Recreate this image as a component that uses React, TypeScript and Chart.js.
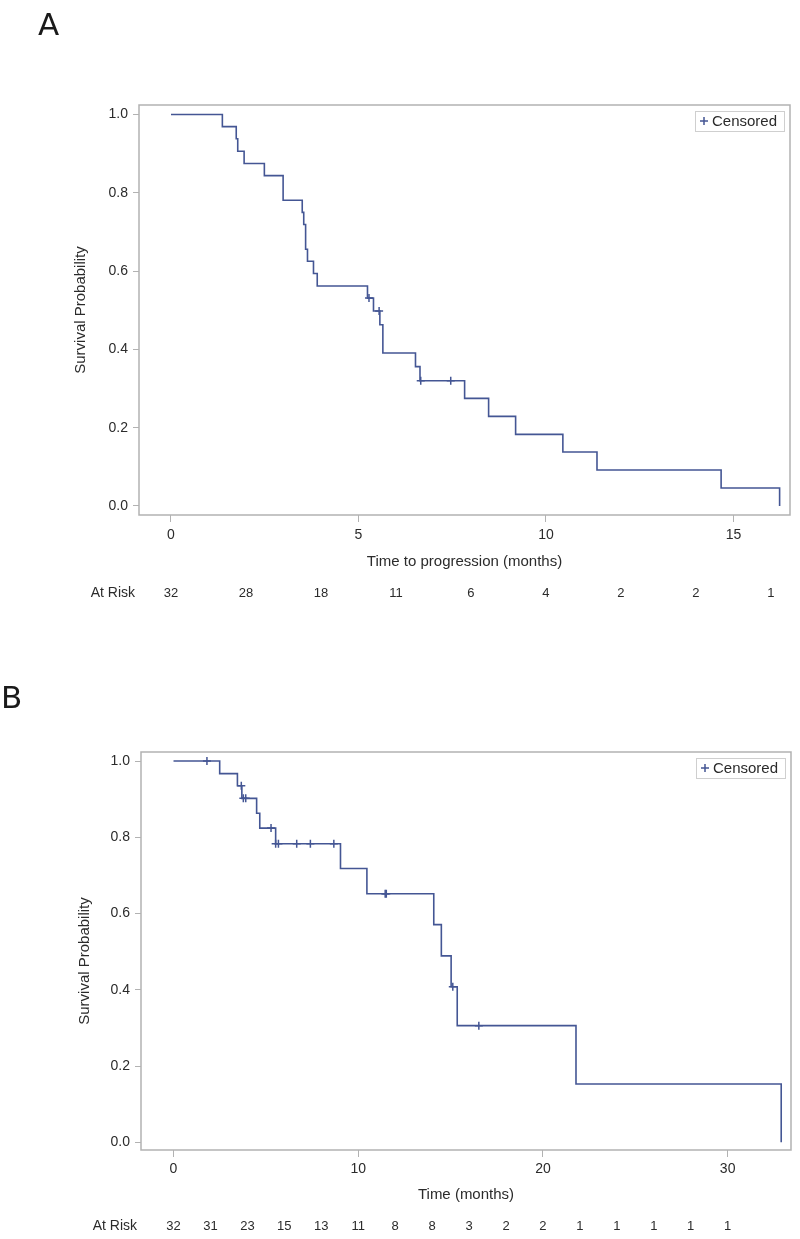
import React, { useEffect, useRef } from 'react';
import { Chart, registerables } from 'chart.js';

Chart.register(...registerables);

// ---------- Panel A data ----------
const stepTimesA = [0, 1.37, 1.74, 1.78, 1.95, 2.49, 2.99, 3.5, 3.54, 3.59, 3.64, 3.8, 3.9, 5.24, 5.4, 5.57, 5.65, 6.52, 6.64, 7.83, 8.47, 9.19, 10.45, 11.36, 14.67, 16.23];
const stepSurvA = [1.0, 0.969, 0.938, 0.906, 0.875, 0.844, 0.781, 0.75, 0.719, 0.656, 0.625, 0.594, 0.562, 0.531, 0.498, 0.463, 0.391, 0.356, 0.32, 0.275, 0.229, 0.183, 0.138, 0.092, 0.046, 0.0];
const censorTimesA = [5.28, 5.55, 6.66, 7.46];
const censorSurvA = [0.531, 0.498, 0.32, 0.32];
const xTicksA = [0, 5, 10, 15];
const atRiskTimesA = [0, 2, 4, 6, 8, 10, 12, 14, 16];
const atRiskA = [32, 28, 18, 11, 6, 4, 2, 2, 1];
const xTitleA = 'Time to progression (months)';

// ---------- Panel B data ----------
const stepTimesB = [0, 2.5, 3.46, 3.7, 4.5, 4.67, 5.53, 9.04, 10.47, 14.09, 14.5, 15.03, 15.36, 21.79, 32.9];
const stepSurvB = [1.0, 0.967, 0.935, 0.902, 0.863, 0.824, 0.783, 0.718, 0.652, 0.571, 0.489, 0.408, 0.306, 0.153, 0.0];
const censorTimesB = [1.81, 3.67, 3.78, 3.91, 5.28, 5.53, 5.68, 6.67, 7.41, 8.68, 11.46, 11.52, 15.12, 16.53];
const censorSurvB = [1.0, 0.935, 0.902, 0.902, 0.824, 0.783, 0.783, 0.783, 0.783, 0.783, 0.652, 0.652, 0.408, 0.306];
const xTicksB = [0, 10, 20, 30];
const atRiskTimesB = [0, 2, 4, 6, 8, 10, 12, 14, 16, 18, 20, 22, 24, 26, 28, 30];
const atRiskB = [32, 31, 23, 15, 13, 11, 8, 8, 3, 2, 2, 1, 1, 1, 1, 1];
const xTitleB = 'Time (months)';

// ---------- shared ----------
const yTicks = [0, 0.2, 0.4, 0.6, 0.8, 1.0];
const yTitle = 'Survival Probability';
const legendLabel = 'Censored';
const atRiskLabel = 'At Risk';

const LINE = '#445694';
const FRAME = '#b2b2b2';
const TEXT = '#2b2b2b';
const FONT = "'Liberation Sans', Arial, sans-serif";

const kmPlugin = {
  id: 'kmDecor',
  afterDraw(chart: any, _args: any, o: any) {
    const { ctx, chartArea: ca, scales } = chart;
    const xs = scales.x;
    ctx.save();
    // frame
    ctx.strokeStyle = FRAME;
    ctx.lineWidth = 1.5;
    ctx.strokeRect(ca.left, ca.top, ca.right - ca.left, ca.bottom - ca.top);

    // legend box
    const bw = 89, bh = 20;
    const bx = ca.right - 6 - bw, by = ca.top + 6;
    ctx.fillStyle = '#ffffff';
    ctx.fillRect(bx, by, bw, bh);
    ctx.strokeStyle = '#cfcfcf';
    ctx.lineWidth = 1;
    ctx.strokeRect(bx + 0.5, by + 0.5, bw, bh);
    const px = bx + 9, py = by + bh / 2;
    ctx.strokeStyle = LINE;
    ctx.lineWidth = 1.5;
    ctx.beginPath();
    ctx.moveTo(px - 4, py); ctx.lineTo(px + 4, py);
    ctx.moveTo(px, py - 4); ctx.lineTo(px, py + 4);
    ctx.stroke();
    ctx.fillStyle = TEXT;
    ctx.font = `15px ${FONT}`;
    ctx.textAlign = 'left';
    ctx.textBaseline = 'middle';
    ctx.fillText(legendLabel, bx + 17, py + 0.5);

    // y title
    ctx.save();
    ctx.translate(o.yTitleX, o.yTitleY);
    ctx.rotate(-Math.PI / 2);
    ctx.textAlign = 'center';
    ctx.textBaseline = 'middle';
    ctx.font = `15px ${FONT}`;
    ctx.fillText(yTitle, 0, 0);
    ctx.restore();

    // at risk row
    const ry = ca.bottom + o.atRiskOffset;
    ctx.font = `14px ${FONT}`;
    ctx.textAlign = 'right';
    ctx.textBaseline = 'middle';
    ctx.fillText(atRiskLabel, o.atRiskLabelX, ry);
    ctx.font = `13px ${FONT}`;
    ctx.textAlign = 'center';
    o.times.forEach((t: number, i: number) => {
      ctx.fillText(String(o.counts[i]), xs.getPixelForValue(t), ry);
    });
    ctx.restore();
  },
};

function makeConfig(p: any): any {
  return {
    type: 'scatter',
    data: {
      datasets: [
        {
          data: p.times.map((t: number, i: number) => ({ x: t, y: p.surv[i] })),
          showLine: true,
          stepped: 'before',
          borderColor: LINE,
          borderWidth: 1.6,
          pointRadius: 0,
          fill: false,
        },
        {
          data: p.cTimes.map((t: number, i: number) => ({ x: t, y: p.cSurv[i] })),
          showLine: false,
          pointStyle: 'cross',
          pointRadius: 4,
          borderColor: LINE,
          backgroundColor: LINE,
          pointBorderWidth: 1.5,
          borderWidth: 1.5,
        },
      ],
    },
    options: {
      responsive: false,
      maintainAspectRatio: false,
      animation: false,
      events: [],
      layout: { padding: p.padding },
      plugins: {
        legend: { display: false },
        tooltip: { enabled: false },
        kmDecor: {
          yTitleX: p.yTitleX,
          yTitleY: p.yTitleY,
          atRiskOffset: p.atRiskOffset,
          atRiskLabelX: p.atRiskLabelX,
          times: p.riskTimes,
          counts: p.riskCounts,
        },
      },
      scales: {
        x: {
          type: 'linear',
          min: p.xMin,
          max: p.xMax,
          afterBuildTicks: (s: any) => { s.ticks = p.xTicks.map((v: number) => ({ value: v })); },
          afterFit: (s: any) => { s.height = p.xAxisHeight; },
          grid: { drawOnChartArea: false, drawTicks: true, tickLength: 7, color: FRAME, lineWidth: 1 },
          border: { display: false },
          ticks: {
            color: TEXT,
            font: { size: 14, family: FONT },
            padding: p.xTickPad,
            maxRotation: 0,
            callback: (v: any) => String(v),
          },
          title: {
            display: true,
            text: p.xTitle,
            color: TEXT,
            font: { size: 15, family: FONT },
            padding: { top: 0, bottom: 4 },
          },
        },
        y: {
          type: 'linear',
          min: p.yMin,
          max: p.yMax,
          afterBuildTicks: (s: any) => { s.ticks = yTicks.map((v) => ({ value: v })); },
          afterFit: (s: any) => { s.width = p.yAxisWidth; },
          grid: { drawOnChartArea: false, drawTicks: true, tickLength: 6, color: FRAME, lineWidth: 1 },
          border: { display: false },
          ticks: {
            color: TEXT,
            font: { size: 14, family: FONT },
            padding: 5,
            callback: (v: any) => Number(v).toFixed(1),
          },
          title: { display: false },
        },
      },
    },
    plugins: [kmPlugin],
  };
}

const panelA = {
  times: stepTimesA, surv: stepSurvA, cTimes: censorTimesA, cSurv: censorSurvA,
  xTicks: xTicksA, riskTimes: atRiskTimesA, riskCounts: atRiskA, xTitle: xTitleA,
  xMin: -0.853, xMax: 16.507, yMin: -0.023, yMax: 1.0243,
  padding: { left: 60, top: 105, right: 10, bottom: 45 },
  yAxisWidth: 79, xAxisHeight: 60, xTickPad: 5,
  yTitleX: 81, yTitleY: 310, atRiskOffset: 78, atRiskLabelX: 135,
};

const panelB = {
  times: stepTimesB, surv: stepSurvB, cTimes: censorTimesB, cSurv: censorSurvB,
  xTicks: xTicksB, riskTimes: atRiskTimesB, riskCounts: atRiskB, xTitle: xTitleB,
  xMin: -1.76, xMax: 33.43, yMin: -0.02, yMax: 1.0236,
  padding: { left: 62, top: 112, right: 9, bottom: 31 },
  yAxisWidth: 79, xAxisHeight: 58, xTickPad: 4,
  yTitleX: 85, yTitleY: 321, atRiskOffset: 76, atRiskLabelX: 137,
};

function KMChart({ cfg, top, height }: { cfg: any; top: number; height: number }) {
  const ref = useRef<HTMLCanvasElement | null>(null);
  useEffect(() => {
    if (!ref.current) return;
    const chart = new Chart(ref.current, makeConfig(cfg));
    return () => chart.destroy();
  }, [cfg]);
  return (
    <canvas
      ref={ref}
      width={800}
      height={height}
      style={{ position: 'absolute', left: 0, top, width: 800, height, display: 'block' }}
    />
  );
}

const letterStyle: React.CSSProperties = {
  position: 'absolute',
  fontFamily: "'DejaVu Sans', sans-serif",
  fontSize: 31,
  lineHeight: '31px',
  color: '#1a1a1a',
};

export default function App() {
  return (
    <div style={{ position: 'absolute', left: 0, top: 0, width: 800, height: 1239, background: '#fff', overflow: 'hidden' }}>
      <KMChart cfg={panelA} top={0} height={620} />
      <KMChart cfg={panelB} top={640} height={599} />
      <div style={{ ...letterStyle, left: 38, top: 9 }}>A</div>
      <div style={{ ...letterStyle, left: 1, top: 682 }}>B</div>
    </div>
  );
}
